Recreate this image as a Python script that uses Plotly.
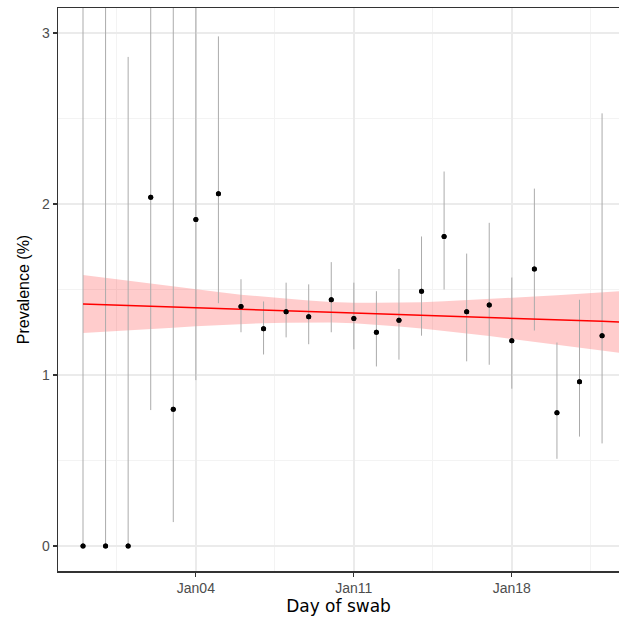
import plotly.graph_objects as go
import pandas as pd

# --- data ---
dates = pd.date_range("2020-12-30", "2021-01-22", freq="D")
prevalence = [0, 0, 0, 2.04, 0.80, 1.91, 2.06, 1.40, 1.27, 1.37, 1.34, 1.44,
              1.33, 1.25, 1.32, 1.49, 1.81, 1.37, 1.41, 1.20, 1.62, 0.78, 0.96, 1.23]
upper_ci = [3.5, 3.5, 2.86, 3.5, 3.5, 3.5, 2.98, 1.56, 1.43, 1.54, 1.53, 1.66,
            1.54, 1.49, 1.62, 1.81, 2.19, 1.71, 1.89, 1.57, 2.09, 1.19, 1.44, 2.53]
lower_ci = [0, 0, 0, 0.795, 0.14, 0.97, 1.42, 1.25, 1.12, 1.22, 1.18, 1.25,
            1.15, 1.05, 1.09, 1.23, 1.50, 1.08, 1.06, 0.92, 1.26, 0.51, 0.64, 0.60]

fit_dates = pd.date_range("2020-12-30", "2021-01-23", freq="D")
fit_mid = [1.415, 1.411, 1.406, 1.402, 1.397, 1.393, 1.389, 1.384, 1.380, 1.375,
           1.371, 1.367, 1.362, 1.358, 1.353, 1.349, 1.345, 1.340, 1.336, 1.331,
           1.327, 1.323, 1.318, 1.314, 1.309]
fit_upper = [1.585, 1.568, 1.550, 1.534, 1.517, 1.501, 1.486, 1.470, 1.457, 1.444,
             1.435, 1.427, 1.422, 1.422, 1.422, 1.426, 1.431, 1.437, 1.444, 1.451,
             1.459, 1.467, 1.475, 1.484, 1.492]
fit_lower = [1.245, 1.254, 1.262, 1.270, 1.277, 1.285, 1.292, 1.298, 1.303, 1.306,
             1.307, 1.307, 1.302, 1.294, 1.284, 1.272, 1.259, 1.243, 1.228, 1.211,
             1.195, 1.179, 1.161, 1.144, 1.126]

x_tick_vals = ["2021-01-04", "2021-01-11", "2021-01-18"]
x_tick_text = ["Jan04", "Jan11", "Jan18"]
x_minor_vals = ["2020-12-31 12:00", "2021-01-07 12:00", "2021-01-14 12:00", "2021-01-21 12:00"]
y_tick_vals = [0, 1, 2, 3]
y_minor_vals = [0.5, 1.5, 2.5]

fig = go.Figure()

fig.add_trace(go.Scatter(x=fit_dates, y=fit_upper, mode="lines",
                         line=dict(width=0), hoverinfo="skip", showlegend=False))
fig.add_trace(go.Scatter(x=fit_dates, y=fit_lower, mode="lines", fill="tonexty",
                         fillcolor="rgba(255,0,0,0.2)", line=dict(width=0),
                         hoverinfo="skip", showlegend=False))

err_plus = [u - p for u, p in zip(upper_ci, prevalence)]
err_minus = [p - l for p, l in zip(prevalence, lower_ci)]
fig.add_trace(go.Scatter(
    x=dates, y=prevalence, mode="markers",
    marker=dict(color="black", size=5),
    error_y=dict(type="data", symmetric=False, array=err_plus, arrayminus=err_minus,
                 width=0, thickness=1, color="#ABABAB"),
    showlegend=False))

fig.add_trace(go.Scatter(x=fit_dates, y=fit_mid, mode="lines",
                         line=dict(color="#FF0000", width=1.5), showlegend=False))

fig.add_trace(go.Scatter(x=dates, y=prevalence, mode="markers",
                         marker=dict(color="black", size=5), showlegend=False))

tick_font = dict(family="Liberation Sans, Arial, sans-serif", size=14, color="#4D4D4D")
xtitle_font = dict(family="DejaVu Sans, sans-serif", size=17, color="black")
ytitle_font = dict(family="Liberation Sans, Arial, sans-serif", size=16, color="black")

fig.update_layout(
    width=619, height=624,
    margin=dict(l=58, r=0, t=8, b=53),
    plot_bgcolor="white", paper_bgcolor="white",
    xaxis=dict(
        range=["2020-12-28 21:24", "2021-01-22 18:00"],
        tickmode="array", tickvals=x_tick_vals, ticktext=x_tick_text,
        ticks="outside", ticklen=4, tickwidth=1.2, tickcolor="#333333",
        tickfont=tick_font,
        showgrid=True, gridcolor="#EBEBEB", gridwidth=1.5,
        minor=dict(tickmode="array", tickvals=x_minor_vals, showgrid=True,
                   gridcolor="#F3F3F3", gridwidth=1, ticks=""),
        showline=True, linecolor="#333333", linewidth=1.5, mirror=True,
        zeroline=False, automargin=False,
        title=dict(text="Day of swab", font=xtitle_font, standoff=4),
    ),
    yaxis=dict(
        range=[-0.146, 3.146],
        tickmode="array", tickvals=y_tick_vals,
        ticks="outside", ticklen=4, tickwidth=1.2, tickcolor="#333333",
        tickfont=tick_font,
        showgrid=True, gridcolor="#EBEBEB", gridwidth=1.5,
        minor=dict(tickmode="array", tickvals=y_minor_vals, showgrid=True,
                   gridcolor="#F3F3F3", gridwidth=1, ticks=""),
        showline=True, linecolor="#333333", linewidth=1.5, mirror=False,
        zeroline=False, automargin=False,
        title=dict(text="Prevalence (%)", font=ytitle_font, standoff=8),
    ),
)

fig.write_html("out.html",
               config={"displayModeBar": False, "staticPlot": True},
               post_script="document.body.style.margin='0px';document.body.style.overflow='hidden';")
